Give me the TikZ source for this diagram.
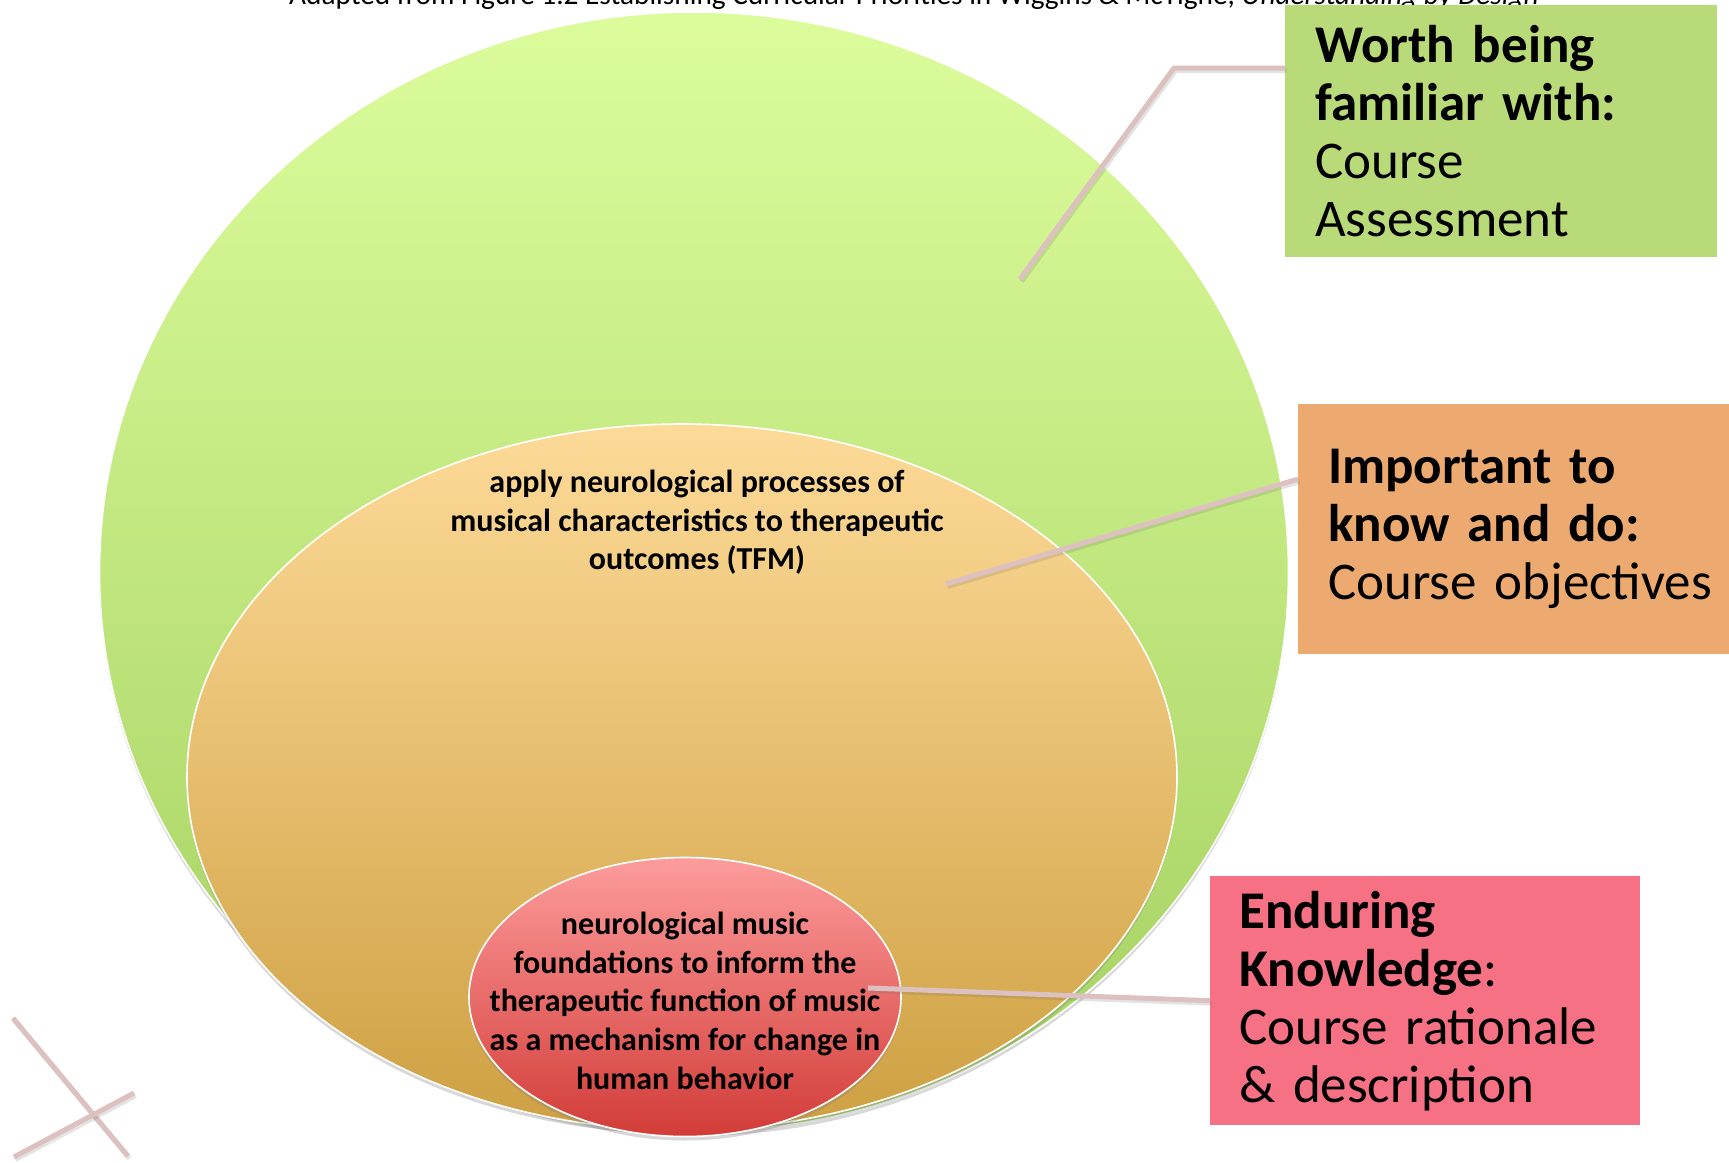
\documentclass[tikz,border=0pt]{standalone}
\usepackage{fontspec}
\setmainfont{Carlito}
\usetikzlibrary{shapes.geometric,shadows,calc}
\definecolor{gTop}{HTML}{DCFC9C}
\definecolor{gBot}{HTML}{A4D060}
\definecolor{oTop}{HTML}{FDDA98}
\definecolor{oBot}{HTML}{CEA042}
\definecolor{rTop}{HTML}{FD9C9C}
\definecolor{rBot}{HTML}{D23C38}
\definecolor{gBox}{HTML}{B8DA78}
\definecolor{oBox}{HTML}{EDAA70}
\definecolor{pBox}{HTML}{F57183}
\definecolor{lineC}{HTML}{DDC0C0}
\tikzset{
  ell/.style={ellipse, inner sep=0pt, draw=white, line width=1.6pt,
    drop shadow={opacity=0.3, shadow xshift=0pt, shadow yshift=-4pt}},
  bigbox/.style={rectangle, inner xsep=30pt, inner ysep=0pt, anchor=north west,
    align=left, font=\fontsize{53}{58}\selectfont},
  elltext/.style={align=center, inner sep=0pt, anchor=north,
    font=\fontsize{32}{38.6}\selectfont\bfseries},
  conn/.style={line width=5pt, draw=lineC,
    preaction={draw=black!60, opacity=0.18, line width=5pt,
      transform canvas={shift={(1.5pt,-2.5pt)}}}}
}
\begin{document}
\begin{tikzpicture}[x=1pt,y=-1pt]
\useasboundingbox[fill=white] (0,0) rectangle (1729,1162);

% caption (cut at the top edge, as in the reference)
\node[anchor=base west, inner sep=0pt, font=\fontsize{29.3}{32}\selectfont] (cap) at (289,4)
  {Adapted from Figure 1.2 Establishing Curricular Priorities in Wiggins \& McTighe, \textit{Understanding by Design}};

% ellipses
\node[ell, minimum width=1189pt, minimum height=1120pt, top color=gTop, bottom color=gBot] (outer) at (694,572) {};
\node[ell, minimum width=990pt, minimum height=706pt, top color=oTop, bottom color=oBot] (mid) at (682,777) {};
\node[ell, minimum width=432pt, minimum height=279pt, top color=rTop, bottom color=rBot] (inner) at (685,997) {};

% ellipse texts
\node[elltext] (midtext) at (697,470)
  {apply neurological processes of\\musical characteristics to therapeutic\\outcomes (TFM)};
\node[elltext] (innertext) at (685,912)
  {neurological music\\foundations to inform the\\therapeutic function of music\\as a mechanism for change in\\human behavior};

% label boxes
\node[bigbox, fill=gBox, minimum width=432pt, minimum height=252pt, text width=372pt] (gbox) at (1285,5)
  {\mbox{\textbf{Worth being}}\\\mbox{\textbf{familiar with:}}\\\mbox{Course}\\\mbox{Assessment}};
\node[bigbox, fill=oBox, minimum width=431pt, minimum height=250pt, text width=371pt] (obox) at (1298,404)
  {\mbox{\textbf{Important to}}\\\mbox{\textbf{know and do:}}\\\mbox{Course objectives}};
\node[bigbox, fill=pBox, minimum width=430pt, minimum height=249pt, inner xsep=29pt, text width=372pt] (pbox) at (1210,876)
  {\mbox{\textbf{Enduring}}\\\mbox{\textbf{Knowledge}:}\\\mbox{Course rationale}\\\mbox{\& description}};

% connector points
\coordinate (gbend) at (1174,68);
\coordinate (gend) at (1020,279);
\coordinate (oend) at (946,584);
\coordinate (pend) at (868,988);

\draw[conn] ($(gbox.north west)!0.25!(gbox.south west)$) -- (gbend) -- (gend);
\draw[conn] ($(obox.north west)!0.3!(obox.south west)$) -- (oend);
\draw[conn] (pbox.west) -- (pend);

% stray crossing lines at bottom left
\coordinate (xa1) at (13,1018);
\coordinate (xa2) at (128,1156);
\coordinate (xb1) at (14,1157);
\coordinate (xb2) at (134,1093);
\draw[conn] (xa1) -- (xa2);
\draw[conn] (xb1) -- (xb2);
\end{tikzpicture}
\end{document}
